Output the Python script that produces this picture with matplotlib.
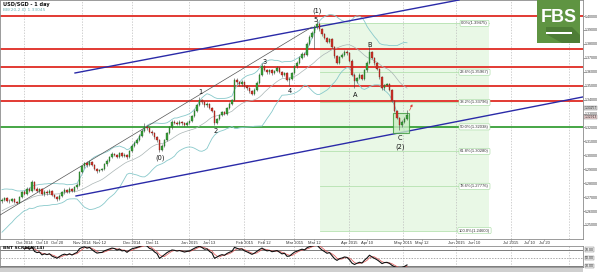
import matplotlib

matplotlib.use("Agg")
import matplotlib.pyplot as plt
import matplotlib.transforms as mtransforms
from matplotlib.patches import Rectangle, Polygon
import numpy as np
import pandas as pd

W, H = 599, 273

# closes before the first visible bar (only used for the Bollinger / oscillator warm-up)
history_closes = [1.2475, 1.2490, 1.2500, 1.2520, 1.2515, 1.2540, 1.2560, 1.2555, 1.2580, 1.2610,
                  1.2600, 1.2625, 1.2650, 1.2640, 1.2665, 1.2700, 1.2690, 1.2720, 1.2700]
first_open = 1.2670

closes = [
    1.2680, 1.2690, 1.2675, 1.2670, 1.2685, 1.2665, 1.2660, 1.2700, 1.2735, 1.2725,
    1.2760, 1.2745, 1.2810, 1.2760, 1.2745, 1.2755, 1.2720, 1.2740, 1.2730, 1.2745,
    1.2715, 1.2700, 1.2685, 1.2710, 1.2735, 1.2750, 1.2740, 1.2760, 1.2745, 1.2770,
    1.2790, 1.2880, 1.2920, 1.2945, 1.2930, 1.2955, 1.2930, 1.2905, 1.2885, 1.2895,
    1.2900, 1.2935, 1.2960, 1.2985, 1.3010, 1.3005, 1.2990, 1.3015, 1.2995, 1.3005,
    1.2985, 1.3030, 1.3070, 1.3090, 1.3110, 1.3140, 1.3175, 1.3205, 1.3195, 1.3170,
    1.3160, 1.3130, 1.3110, 1.3035, 1.3070, 1.3110, 1.3160, 1.3200, 1.3240, 1.3235,
    1.3225, 1.3240, 1.3230, 1.3220, 1.3235, 1.3245, 1.3280, 1.3320, 1.3360, 1.3395,
    1.3380, 1.3360, 1.3370, 1.3340, 1.3320, 1.3235, 1.3260, 1.3290, 1.3310, 1.3300,
    1.3340, 1.3370, 1.3395, 1.3540, 1.3525, 1.3510, 1.3525, 1.3495, 1.3480, 1.3460,
    1.3440, 1.3470, 1.3520, 1.3580, 1.3640, 1.3615, 1.3595, 1.3610, 1.3590, 1.3605,
    1.3625, 1.3600, 1.3575, 1.3590, 1.3540, 1.3545, 1.3590, 1.3640, 1.3665, 1.3700,
    1.3730, 1.3720, 1.3800, 1.3850, 1.3880, 1.3920, 1.3945, 1.3905, 1.3870, 1.3845,
    1.3815, 1.3835, 1.3780, 1.3710, 1.3665, 1.3705, 1.3720, 1.3745, 1.3735, 1.3680,
    1.3580, 1.3530, 1.3555, 1.3575, 1.3550, 1.3610, 1.3665, 1.3745, 1.3700, 1.3660,
    1.3620, 1.3560, 1.3480, 1.3505, 1.3510, 1.3470, 1.3390, 1.3320, 1.3270, 1.3220,
    1.3240, 1.3260, 1.3291,
]
highs = [
    1.2692, 1.2700, 1.2698, 1.2685, 1.2695, 1.2690, 1.2675, 1.2710, 1.2745, 1.2748,
    1.2772, 1.2770, 1.2825, 1.2818, 1.2772, 1.2768, 1.2762, 1.2752, 1.2750, 1.2758,
    1.2752, 1.2722, 1.2710, 1.2720, 1.2745, 1.2762, 1.2760, 1.2770, 1.2768, 1.2780,
    1.2800, 1.2890, 1.2932, 1.2955, 1.2958, 1.2968, 1.2962, 1.2938, 1.2912, 1.2905,
    1.2912, 1.2945, 1.2970, 1.2995, 1.3022, 1.3020, 1.3012, 1.3025, 1.3022, 1.3015,
    1.3012, 1.3040, 1.3080, 1.3100, 1.3122, 1.3150, 1.3188, 1.3230, 1.3215, 1.3200,
    1.3180, 1.3168, 1.3140, 1.3118, 1.3080, 1.3120, 1.3170, 1.3210, 1.3252, 1.3250,
    1.3245, 1.3250, 1.3248, 1.3238, 1.3245, 1.3255, 1.3290, 1.3330, 1.3370, 1.3418,
    1.3405, 1.3388, 1.3382, 1.3378, 1.3350, 1.3328, 1.3270, 1.3300, 1.3320, 1.3320,
    1.3350, 1.3380, 1.3405, 1.3555, 1.3552, 1.3535, 1.3538, 1.3532, 1.3505, 1.3488,
    1.3468, 1.3480, 1.3530, 1.3590, 1.3660, 1.3648, 1.3622, 1.3620, 1.3618, 1.3615,
    1.3640, 1.3632, 1.3608, 1.3600, 1.3598, 1.3560, 1.3600, 1.3650, 1.3675, 1.3712,
    1.3742, 1.3745, 1.3810, 1.3862, 1.3892, 1.3932, 1.3970, 1.3955, 1.3912, 1.3880,
    1.3852, 1.3845, 1.3842, 1.3788, 1.3720, 1.3715, 1.3732, 1.3758, 1.3755, 1.3742,
    1.3688, 1.3590, 1.3565, 1.3588, 1.3582, 1.3620, 1.3678, 1.3775, 1.3752, 1.3708,
    1.3668, 1.3628, 1.3568, 1.3515, 1.3522, 1.3518, 1.3478, 1.3398, 1.3328, 1.3278,
    1.3252, 1.3272, 1.3326,
]
lows = [
    1.2660, 1.2672, 1.2665, 1.2660, 1.2662, 1.2655, 1.2648, 1.2655, 1.2695, 1.2712,
    1.2718, 1.2735, 1.2740, 1.2750, 1.2735, 1.2730, 1.2712, 1.2710, 1.2718, 1.2722,
    1.2705, 1.2690, 1.2670, 1.2678, 1.2702, 1.2725, 1.2728, 1.2732, 1.2735, 1.2738,
    1.2760, 1.2782, 1.2870, 1.2910, 1.2918, 1.2922, 1.2920, 1.2895, 1.2875, 1.2878,
    1.2885, 1.2892, 1.2925, 1.2950, 1.2978, 1.2995, 1.2980, 1.2982, 1.2985, 1.2988,
    1.2975, 1.2978, 1.3022, 1.3060, 1.3080, 1.3102, 1.3132, 1.3168, 1.3182, 1.3160,
    1.3148, 1.3120, 1.3098, 1.3022, 1.3028, 1.3062, 1.3102, 1.3150, 1.3192, 1.3225,
    1.3215, 1.3218, 1.3220, 1.3210, 1.3212, 1.3225, 1.3238, 1.3272, 1.3312, 1.3352,
    1.3370, 1.3350, 1.3350, 1.3330, 1.3310, 1.3215, 1.3225, 1.3250, 1.3280, 1.3290,
    1.3292, 1.3332, 1.3362, 1.3388, 1.3512, 1.3500, 1.3500, 1.3485, 1.3470, 1.3450,
    1.3430, 1.3432, 1.3462, 1.3512, 1.3572, 1.3605, 1.3585, 1.3585, 1.3580, 1.3582,
    1.3598, 1.3590, 1.3565, 1.3568, 1.3530, 1.3497, 1.3538, 1.3582, 1.3630, 1.3658,
    1.3690, 1.3708, 1.3712, 1.3790, 1.3840, 1.3760, 1.3910, 1.3895, 1.3860, 1.3835,
    1.3805, 1.3808, 1.3770, 1.3700, 1.3655, 1.3658, 1.3695, 1.3712, 1.3722, 1.3670,
    1.3570, 1.3480, 1.3520, 1.3545, 1.3540, 1.3542, 1.3600, 1.3658, 1.3690, 1.3650,
    1.3610, 1.3550, 1.3468, 1.3472, 1.3495, 1.3460, 1.3380, 1.3310, 1.3258, 1.3180,
    1.3205, 1.3230, 1.3250,
]

red_levels = [1.4000, 1.3763, 1.3634, 1.3497, 1.3390]
green_level = 1.3200

fib_names = ["0.0%", "23.6%", "38.2%", "50.0%", "61.8%", "78.6%", "100.0%"]
fib_prices = [1.39475, 1.35967, 1.33796, 1.32038, 1.30280, 1.27776, 1.24600]

month_pos = [9, 32, 52, 75, 97, 117, 139, 160.5, 181.6, 203.6, 227]
date_pos = [9, 16, 22, 32, 39, 52, 60, 75, 83, 97, 105, 117, 125, 139, 146,
            160.5, 168, 181.6, 189, 203.6, 211, 217]
date_labels = ["Oct 2014", "Oct 10", "Oct 20", "Nov 2014", "Nov 12", "Dec 2014", "Dec 11",
               "Jan 2015", "Jan 13", "Feb 2015", "Feb 12", "Mar 2015", "Mar 12", "Apr 2015",
               "Apr 10", "May 2015", "May 12", "Jun 2015", "Jun 10", "Jul 2015", "Jul 10", "Jul 20"]

wave_labels = ["(0)", "1", "2", "3", "4", "5", "(1)", "A", "B", "C", "(2)"]
wave_x = [63.2, 79.2, 85.6, 105.2, 115.2, 125.6, 126.0, 141.2, 147.2, 159.2, 159.2]
wave_y = [1.2981, 1.3454, 1.3174, 1.3670, 1.3462, 1.3971, 1.4036, 1.3433, 1.3792, 1.3124, 1.3060]

upper_trend = ([29.2, 182.8], [1.3591, 1.4115])
lower_trend = ([29.6, 232.4], [1.2708, 1.3419])
channel_line = ([-0.8, 124.0], [1.2571, 1.3921])

price_ticks = [1.25, 1.26, 1.27, 1.28, 1.29, 1.30, 1.31, 1.32, 1.33, 1.34, 1.35, 1.36, 1.37, 1.38, 1.39, 1.40]
price_tags = [1.33257, 1.32913]
osc_levels = [70, 50, 30]

XLIM = (-0.8, 232.4)
YLIM = (1.23991, 1.41149)

RED = "#e23a33"
GREEN_LINE = "#45a645"
UP = "#39a039"
DOWN = "#cf3329"
TEAL = "#88c9cb"
NARROW = ["Liberation Sans Narrow", "Liberation Sans", "DejaVu Sans"]


def px_rect(x0, y0, x1, y1):
    return [x0 / W, 1 - y1 / H, (x1 - x0) / W, (y1 - y0) / H]


fig = plt.figure(figsize=(W / 100, H / 100), dpi=100)
fig.patch.set_facecolor("white")
ax = fig.add_axes(px_rect(0, 0, 583, 239))
ax2 = fig.add_axes(px_rect(0, 246, 583, 267))

idx = np.arange(len(closes))
c = np.array(closes)
o = np.array([first_open] + closes[:-1])
hi = np.array(highs)
lo = np.array(lows)

# fibonacci zone
ax.add_patch(Rectangle((127.2, fib_prices[-1]), 194.8 - 127.2, fib_prices[0] - fib_prices[-1],
                       facecolor="#e9f8e6", edgecolor="none", zorder=0))
for name, p in zip(fib_names, fib_prices):
    ax.plot([127.2, 194.8], [p, p], color="#b5e2b0", lw=0.6, zorder=1)
    ax.text(189.0, p, f"{name}({p:.5f})", fontsize=3.0, ha="center", va="center", color="#333",
            family=NARROW, zorder=6,
            bbox=dict(boxstyle="round,pad=0.25", fc="white", ec="#9fd89a", lw=0.4))

for m in month_pos:
    ax.axvline(m, color="#bdbdbd", lw=0.5, ls=(0, (2, 2)), zorder=0.5)
    ax2.axvline(m, color="#bdbdbd", lw=0.5, ls=(0, (2, 2)), zorder=0.5)

for p in red_levels:
    ax.axhline(p, color=RED, lw=1.4, zorder=2)
ax.axhline(green_level, color=GREEN_LINE, lw=1.4, zorder=2)

# bollinger bands
all_c = pd.Series(history_closes + closes)
mid = all_c.rolling(20, min_periods=10).mean().to_numpy()[len(history_closes):]
sd = all_c.rolling(20, min_periods=10).std(ddof=0).to_numpy()[len(history_closes):]
ax.plot(idx, mid + 2 * sd, color=TEAL, lw=0.6, zorder=3)
ax.plot(idx, mid - 2 * sd, color=TEAL, lw=0.6, zorder=3)
ax.plot(idx, mid, color="#a9b4b4", lw=0.5, zorder=3)

ax.plot(*upper_trend, color="#2a2aa8", lw=1.0, zorder=4)
ax.plot(*lower_trend, color="#2a2aa8", lw=1.0, zorder=4)
ax.plot(*channel_line, color="#555555", lw=0.5, zorder=4)

# candles
ax.vlines(idx, lo, hi, color="#444444", lw=0.4, zorder=5)
up = c >= o
body_lo = np.minimum(o, c)
body_h = np.maximum(np.abs(c - o), 0.0003)
ax.bar(idx[up], body_h[up], bottom=body_lo[up], width=0.62, color=UP, edgecolor="#1d5f1d", lw=0.25, zorder=6)
ax.bar(idx[~up], body_h[~up], bottom=body_lo[~up], width=0.62, color=DOWN, edgecolor="#7a1a14", lw=0.25, zorder=6)

# wave C box and projection arrow
ax.add_patch(Rectangle((156.4, 1.3160), 6.4, 0.0144, facecolor="#c9eec4", edgecolor="#3c9a3c",
                       lw=0.8, alpha=0.8, zorder=4))
ax.annotate("", xy=(164.6, 1.3385), xytext=(162.6, 1.3305),
            arrowprops=dict(arrowstyle="-|>", color=RED, lw=0.5, ls=(0, (1.5, 1)), mutation_scale=3), zorder=7)

for t, x, y in zip(wave_labels, wave_x, wave_y):
    ax.text(x, y, t, fontsize=4.8, ha="center", va="center", color="#111", zorder=8)

ax.set_xlim(*XLIM)
ax.set_ylim(*YLIM)
ax.yaxis.tick_right()
ax.set_yticks(price_ticks)
ax.set_yticklabels([f"{p:.5f}" for p in price_ticks], fontsize=2.6, color="#333", family=NARROW)
ax.tick_params(axis="y", length=1.2, width=0.4, pad=0.4, colors="#555", labelcolor="#333")
ax.set_xticks(date_pos)
ax.set_xticklabels([])
ax.tick_params(axis="x", length=1.5, width=0.4, colors="#777")
trans = mtransforms.blended_transform_factory(ax.transData, ax.transAxes)
for x, t in zip(date_pos, date_labels):
    ax.text(x, -0.008, t, transform=trans, fontsize=3.0, ha="center", va="top", color="#333",
            family=NARROW, clip_on=False)
for s in ax.spines.values():
    s.set_color("#8a8a8a")
    s.set_linewidth(0.6)

# current price tags
for p, fc, dy in zip(price_tags, ["#d9d9d9", "#f1d4d4"], [1.6, -1.6]):
    ax.annotate(f"{p:.5f}", xy=(233.0, p), xytext=(0, dy), textcoords="offset points",
                fontsize=2.4, ha="left", va="center", color="#222", annotation_clip=False,
                family=NARROW, zorder=9, bbox=dict(boxstyle="square,pad=0.05", fc=fc, ec="#777", lw=0.3))

fig.text(3 / W, 1 - 4.5 / H, "USD/SGD - 1 day", fontsize=3.6, color="#111", va="center", weight="bold")
fig.text(3 / W, 1 - 10 / H, "BB(20,2.0) 1.33045", fontsize=3.2, color="#6fb4b8", va="center")

# oscillator panel
delta = all_c.diff()
gain = delta.clip(lower=0).ewm(alpha=1 / 14, adjust=False).mean()
loss = (-delta.clip(upper=0)).ewm(alpha=1 / 14, adjust=False).mean()
rsi_all = 100 - 100 / (1 + gain / loss)
rsi = rsi_all.to_numpy()[len(history_closes):]
sig = rsi_all.rolling(3).mean().to_numpy()[len(history_closes):]
start = 9
ax2.plot(idx[start:], sig[start:], color="#e05050", lw=0.5, zorder=3)
ax2.plot(idx[start:], rsi[start:], color="#111111", lw=0.8, zorder=4)
ax2.axhline(osc_levels[0], color="#666", lw=0.6)
ax2.axhline(osc_levels[1], color="#888", lw=0.5, ls=(0, (2, 2)))
ax2.axhline(osc_levels[2], color="#666", lw=0.6)
ax2.set_xlim(*XLIM)
ax2.set_ylim(27.6, 79.4)
ax2.set_xticks([])
ax2.set_yticks([])
for s in ax2.spines.values():
    s.set_color("#8a8a8a")
    s.set_linewidth(0.6)
for v in osc_levels:
    ax2.text(233.2, v, f"{v:.2f}", fontsize=2.6, ha="left", va="center", color="#222", clip_on=False,
             family=NARROW, bbox=dict(boxstyle="square,pad=0.1", fc="#eeeeee", ec="#777", lw=0.3))
ax2.text(0.5, 76, "BNT SCREEN(14)", fontsize=3.2, color="#111", va="center", weight="bold")

fig.add_artist(Rectangle((0, 1 / H), 583 / W, 4 / H, transform=fig.transFigure,
                         facecolor="#cfcfcf", edgecolor="none"))

# FBS logo
fig.add_artist(Rectangle((537 / W, 1 - 43 / H), 43 / W, 43 / H, transform=fig.transFigure,
                         facecolor="#5f9442", edgecolor="none", zorder=10))
fig.add_artist(Polygon([(546 / W, 1 - 27 / H), (572 / W, 1 - 27 / H), (580 / W, 1 - 35 / H),
                        (580 / W, 1 - 43 / H), (562 / W, 1 - 43 / H), (546 / W, 1 - 34 / H)],
                       closed=True, transform=fig.transFigure, facecolor="#4e7d36", edgecolor="none", zorder=11))
fig.text(558.5 / W, 1 - 18 / H, "FBS", fontsize=13, color="white", weight="bold", ha="center",
         va="center", family=NARROW, zorder=12)
fig.add_artist(Rectangle((546 / W, 1 - 34 / H), 26 / W, 2.5 / H, transform=fig.transFigure,
                         facecolor="white", edgecolor="none", zorder=12))

fig.savefig("out.png", dpi=100)
